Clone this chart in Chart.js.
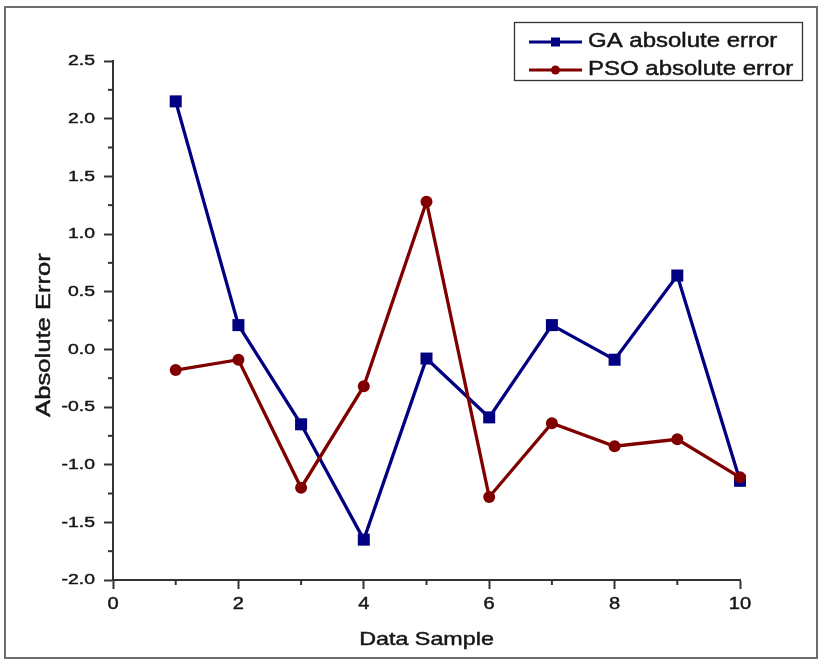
<!DOCTYPE html>
<html>
<head>
<meta charset="utf-8">
<script src="https://cdn.jsdelivr.net/npm/chart.js@4.4.1/dist/chart.umd.min.js"></script>
<style>
  html, body { margin: 0; padding: 0; background: #fff; }
  #wrap { position: relative; width: 820px; height: 660px; }
</style>
</head>
<body>
<div id="wrap"><canvas id="c" width="820" height="660"></canvas></div>
<script>
// Absolute error per data sample for the two optimisers
const samples  = [1, 2, 3, 4, 5, 6, 7, 8, 9, 10];
const gaError  = [2.15, 0.21, -0.65, -1.65, -0.08, -0.59, 0.21, -0.09, 0.64, -1.14];
const psoError = [-0.18, -0.09, -1.20, -0.32, 1.28, -1.28, -0.64, -0.84, -0.78, -1.11];

const xTickValues = [0, 2, 4, 6, 8, 10];
const yTickValues = [-2.0, -1.5, -1.0, -0.5, 0.0, 0.5, 1.0, 1.5, 2.0, 2.5];
const seriesNames = ['GA absolute error', 'PSO absolute error'];
const xTitle = 'Data Sample';
const yTitle = 'Absolute Error';

const GA_COLOR = '#000080';
const PSO_COLOR = '#800000';
const AXIS_COLOR = '#333333';
const TEXT_COLOR = '#161616';
const FONT = '"Liberation Sans", Arial, sans-serif';

// Text in this figure is set wide, so draw it with a horizontal stretch
// and a hairline outline to give it a slightly heavier weight.
function wideText(ctx, text, x, y, size, sx, align, rot) {
  ctx.save();
  ctx.translate(x, y);
  if (rot) ctx.rotate(rot);
  ctx.scale(sx, 1);
  ctx.font = size + 'px ' + FONT;
  ctx.fillStyle = TEXT_COLOR;
  ctx.strokeStyle = TEXT_COLOR;
  ctx.lineWidth = 0.45;
  ctx.textAlign = align;
  ctx.textBaseline = 'middle';
  ctx.fillText(text, 0, 0);
  ctx.strokeText(text, 0, 0);
  ctx.restore();
}

function drawMarker(ctx, style, x, y, size, color) {
  ctx.save();
  ctx.fillStyle = color;
  ctx.beginPath();
  if (style === 'rect') {
    ctx.rect(x - size / 2, y - size / 2, size, size);
  } else {
    ctx.arc(x, y, size / 2, 0, Math.PI * 2);
  }
  ctx.fill();
  ctx.restore();
}

const decorations = {
  id: 'decorations',
  beforeDatasetsDraw(chart) {
    const ctx = chart.ctx;
    const xs = chart.scales.x, ys = chart.scales.y;
    const area = chart.chartArea;
    ctx.save();
    ctx.strokeStyle = AXIS_COLOR;
    ctx.lineWidth = 2;
    // minor ticks
    for (let v = 1; v < 10; v += 2) {
      const px = xs.getPixelForValue(v);
      ctx.beginPath();
      ctx.moveTo(px, area.bottom);
      ctx.lineTo(px, area.bottom + 5);
      ctx.stroke();
    }
    for (let v = -1.75; v < 2.5; v += 0.5) {
      const py = ys.getPixelForValue(v);
      ctx.beginPath();
      ctx.moveTo(area.left, py);
      ctx.lineTo(area.left - 5, py);
      ctx.stroke();
    }
    ctx.restore();

    // tick labels
    xTickValues.forEach(v => {
      wideText(ctx, String(v), xs.getPixelForValue(v), area.bottom + 24, 17, 1.18, 'center');
    });
    yTickValues.forEach(v => {
      wideText(ctx, v.toFixed(1), area.left - 18, ys.getPixelForValue(v), 15.5, 1.25, 'right');
    });

    // axis titles
    wideText(ctx, xTitle, (area.left + area.right) / 2, 640, 18.5, 1.26, 'center');
    wideText(ctx, yTitle, 44, 335, 21, 1.22, 'center', -Math.PI / 2);
  },
  afterDraw(chart) {
    const ctx = chart.ctx;
    ctx.save();
    // outer frame
    ctx.strokeStyle = '#6e6e6e';
    ctx.lineWidth = 2;
    ctx.strokeRect(5, 7, 812, 651);
    // legend box
    ctx.strokeStyle = '#333';
    ctx.lineWidth = 1.3;
    ctx.strokeRect(514.5, 22.5, 288, 58);
    const rows = [
      { name: seriesNames[0], color: GA_COLOR, style: 'rect', y: 42 },
      { name: seriesNames[1], color: PSO_COLOR, style: 'circle', y: 70 }
    ];
    rows.forEach(r => {
      ctx.strokeStyle = r.color;
      ctx.lineWidth = 3;
      ctx.beginPath();
      ctx.moveTo(529, r.y);
      ctx.lineTo(582, r.y);
      ctx.stroke();
      drawMarker(ctx, r.style, 555.5, r.y, 9, r.color);
      wideText(ctx, r.name, 588, r.y, 19.5, 1.23, 'left');
    });
    ctx.restore();
  }
};

const toPoints = arr => samples.map((s, i) => ({ x: s, y: arr[i] }));

new Chart(document.getElementById('c'), {
  type: 'line',
  data: {
    datasets: [
      {
        label: seriesNames[0],
        data: toPoints(gaError),
        borderColor: GA_COLOR,
        backgroundColor: GA_COLOR,
        borderWidth: 3.3,
        pointStyle: 'rect',
        pointRadius: 8.5,
        pointHoverRadius: 8.5,
        pointBorderWidth: 0,
        tension: 0,
        clip: false,
        order: 1
      },
      {
        label: seriesNames[1],
        data: toPoints(psoError),
        borderColor: PSO_COLOR,
        backgroundColor: PSO_COLOR,
        borderWidth: 3.3,
        pointStyle: 'circle',
        pointRadius: 6,
        pointHoverRadius: 6,
        pointBorderWidth: 0,
        tension: 0,
        clip: false,
        order: 0
      }
    ]
  },
  options: {
    responsive: false,
    animation: false,
    events: [],
    layout: { autoPadding: false, padding: { left: 104, right: 80, top: 61, bottom: 71 } },
    plugins: { legend: { display: false }, tooltip: { enabled: false } },
    scales: {
      x: {
        type: 'linear',
        min: 0, max: 10,
        ticks: { stepSize: 2, display: false },
        grid: { drawOnChartArea: false, drawTicks: true, tickLength: 9, tickWidth: 2, tickColor: AXIS_COLOR },
        border: { display: true, color: AXIS_COLOR, width: 2 }
      },
      y: {
        type: 'linear',
        min: -2, max: 2.5,
        ticks: { stepSize: 0.5, display: false },
        grid: { drawOnChartArea: false, drawTicks: true, tickLength: 9, tickWidth: 2, tickColor: AXIS_COLOR },
        border: { display: true, color: AXIS_COLOR, width: 2 }
      }
    }
  },
  plugins: [decorations]
});
</script>
</body>
</html>
